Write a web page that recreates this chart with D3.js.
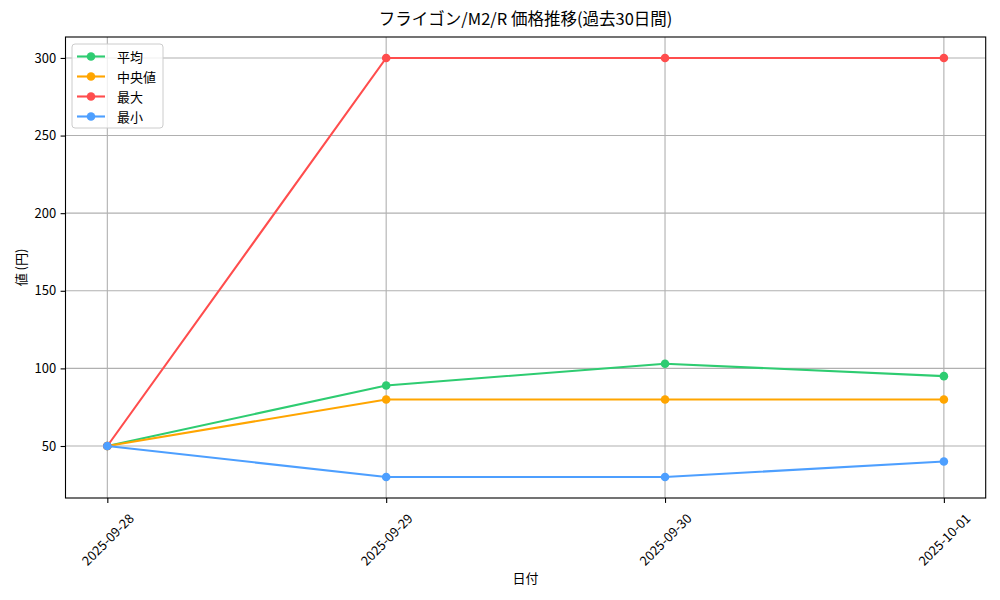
<!DOCTYPE html>
<html><head><meta charset="utf-8">
<script src="https://cdn.jsdelivr.net/npm/d3@7"></script>
<style>
body{margin:0;background:#fff;}
text{font-family:"Noto Sans CJK JP","Noto Sans",sans-serif;fill:#000;}
</style></head>
<body>
<svg id="c" width="1000" height="600"></svg>
<script>
const dates = ["2025-09-28","2025-09-29","2025-09-30","2025-10-01"];
const avgVals = [50, 89, 103, 95];
const medianVals = [50, 80, 80, 80];
const maxVals = [50, 300, 300, 300];
const minVals = [50, 30, 30, 40];
const seriesNames = ["平均","中央値","最大","最小"];
const seriesColors = ["#2ecc71","#ffa500","#ff4d4d","#4d9fff"];
const yTicks = [50,100,150,200,250,300];
const titleText = "フライゴン/M2/R 価格推移(過去30日間)";
const xLabel = "日付";
const yLabel = "値 (円)";

const series = [avgVals, medianVals, maxVals, minVals].map((v,i)=>({name:seriesNames[i], color:seriesColors[i], values:v}));

const L=65.5, R=985.7, T=37, B=498;
const svg = d3.select("#c");
const x = d3.scaleLinear().domain([-0.15, dates.length-1+0.15]).range([L,R]);
const y = d3.scaleLinear().domain([16.5, 313.5]).range([B,T]);

// grid
const g = svg.append("g");
g.selectAll(".gx").data(dates.map((d,i)=>i)).enter().append("line")
 .attr("x1",d=>x(d)).attr("x2",d=>x(d)).attr("y1",T).attr("y2",B)
 .attr("stroke","#b0b0b0").attr("stroke-width",1.1);
g.selectAll(".gy").data(yTicks).enter().append("line")
 .attr("x1",L).attr("x2",R).attr("y1",d=>y(d)).attr("y2",d=>y(d))
 .attr("stroke","#b0b0b0").attr("stroke-width",1.1);

// lines
const line = d3.line().x((d,i)=>x(i)).y(d=>y(d));
series.forEach(s=>{
  svg.append("path").datum(s.values).attr("d",line).attr("fill","none")
    .attr("stroke",s.color).attr("stroke-width",2.1);
  svg.selectAll(null).data(s.values).enter().append("circle")
    .attr("cx",(d,i)=>x(i)).attr("cy",d=>y(d)).attr("r",4.3).attr("fill",s.color);
});

// frame
svg.append("rect").attr("x",L).attr("y",T).attr("width",R-L).attr("height",B-T)
  .attr("fill","none").attr("stroke","#000").attr("stroke-width",1.1);

// y axis
const ya = svg.append("g").attr("transform",`translate(${L},0)`)
  .call(d3.axisLeft(y).tickValues(yTicks).tickSize(4.9).tickPadding(4.5));
ya.select(".domain").remove();
ya.selectAll("line").attr("stroke","#000").attr("stroke-width",1.1);
ya.selectAll("text").attr("font-size",13).attr("font-family",'"Noto Sans CJK JP"').attr("fill","#000");

// x axis
const xa = svg.append("g").attr("transform",`translate(0,${B})`)
  .call(d3.axisBottom(x).tickValues(dates.map((d,i)=>i)).tickFormat(i=>dates[i]).tickSize(4.9));
xa.select(".domain").remove();
xa.selectAll("line").attr("stroke","#000").attr("stroke-width",1.1);
xa.selectAll("text").remove();
svg.selectAll(".xt").data(dates).enter().append("text")
  .attr("transform",(d,i)=>`translate(${x(i)},${539}) rotate(-45)`)
  .attr("text-anchor","middle").attr("dominant-baseline","central")
  .attr("font-size",13).text(d=>d);

// labels
svg.append("text").attr("x",(L+R)/2).attr("y",25).attr("text-anchor","middle")
  .attr("font-size",16.5).text(titleText);
svg.append("text").attr("x",(L+R)/2).attr("y",583).attr("text-anchor","middle")
  .attr("font-size",13).text(xLabel);
svg.append("text").attr("transform",`translate(26,${(T+B)/2}) rotate(-90)`)
  .attr("text-anchor","middle").attr("font-size",13).text(yLabel);

// legend
const lg = svg.append("g");
lg.append("rect").attr("x",72).attr("y",44).attr("width",91).attr("height",84)
  .attr("rx",3).attr("fill","#fff").attr("fill-opacity",0.8).attr("stroke","#cccccc").attr("stroke-width",1);
series.forEach((s,i)=>{
  const yy = 56.5 + i*20;
  lg.append("line").attr("x1",77).attr("x2",105).attr("y1",yy).attr("y2",yy)
    .attr("stroke",s.color).attr("stroke-width",2.1);
  lg.append("circle").attr("cx",91).attr("cy",yy).attr("r",4.3).attr("fill",s.color);
  lg.append("text").attr("x",117).attr("y",yy).attr("dominant-baseline","central")
    .attr("font-size",13).text(s.name);
});
</script>
</body></html>
